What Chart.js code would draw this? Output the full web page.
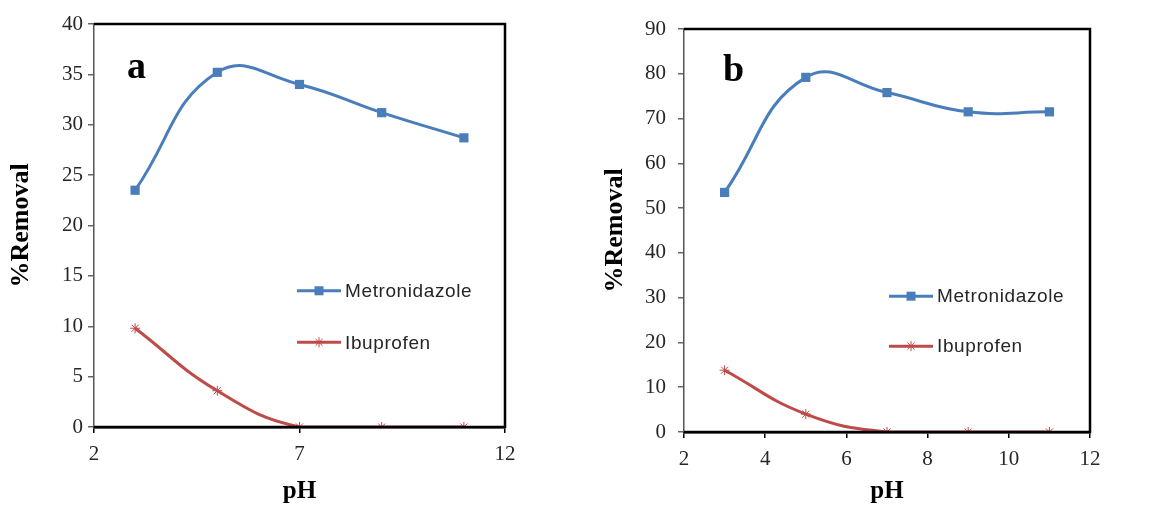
<!DOCTYPE html>
<html>
<head>
<meta charset="utf-8">
<script src="https://cdn.jsdelivr.net/npm/chart.js@4.4.1/dist/chart.umd.min.js"></script>
<style>
  html, body { margin: 0; padding: 0; background: #fff; }
  .panel { position: absolute; top: 0; height: 507px; }
  #panelA { left: 0; width: 535px; }
  #panelB { left: 580px; width: 569px; }
</style>
</head>
<body>
<div class="panel" id="panelA"><canvas id="chartA"></canvas></div>
<div class="panel" id="panelB"><canvas id="chartB"></canvas></div>
<script>
// valores
const phValues = [3, 5, 7, 9, 11]
const metronidazoleA = [23.5, 35.2, 34.0, 31.2, 28.7]
const ibuprofenA = [9.8, 3.6, 0, 0, 0]
const metronidazoleB = [53.5, 79.2, 75.8, 71.5, 71.5]
const ibuprofenB = [13.8, 4.0, 0, 0, 0]
const seriesNames = ['Metronidazole', 'Ibuprofen']

const blue = '#4A7EBB'
const red = '#BE4B48'
const serif = '"Liberation Serif", "Times New Roman", serif'

function toPoints(xs, ys) {
  return xs.map((x, i) => ({ x: x, y: ys[i] }))
}

// moldura da área do gráfico (topo, direita, base em preto)
const plotFrame = {
  id: 'plotFrame',
  afterDraw(chart) {
    const { ctx, chartArea: a } = chart
    ctx.save()
    ctx.strokeStyle = '#000'
    ctx.lineWidth = 2.5
    ctx.beginPath()
    ctx.moveTo(a.left, a.top)
    ctx.lineTo(a.right, a.top)
    ctx.lineTo(a.right, a.bottom)
    ctx.lineTo(a.left, a.bottom)
    ctx.stroke()
    ctx.restore()
  }
}

// legenda desenhada dentro da área do gráfico
const insideLegend = {
  id: 'insideLegend',
  afterDraw(chart, args, opts) {
    const { ctx, chartArea: a } = chart
    const x0 = a.left + a.width * opts.x
    const len = 44
    chart.data.datasets.forEach((ds, i) => {
      const y = a.top + a.height * opts.y[i]
      const mx = x0 + len / 2
      ctx.save()
      ctx.strokeStyle = ds.borderColor
      ctx.lineWidth = 3
      ctx.beginPath()
      ctx.moveTo(x0, y)
      ctx.lineTo(x0 + len, y)
      ctx.stroke()
      if (ds.pointStyle === 'rect') {
        ctx.fillStyle = ds.borderColor
        ctx.fillRect(mx - 4.5, y - 4.5, 9, 9)
      } else {
        ctx.lineWidth = 1
        ctx.beginPath()
        for (let k = 0; k < 4; k++) {
          const ang = k * Math.PI / 4
          ctx.moveTo(mx - 5 * Math.cos(ang), y - 5 * Math.sin(ang))
          ctx.lineTo(mx + 5 * Math.cos(ang), y + 5 * Math.sin(ang))
        }
        ctx.stroke()
      }
      ctx.fillStyle = '#262626'
      ctx.font = '19px "Liberation Sans", Arial, sans-serif'
      ctx.letterSpacing = '0.6px'
      ctx.textBaseline = 'middle'
      ctx.fillText(ds.label, x0 + len + 4, y + 1)
      ctx.restore()
    })
  }
}

// letra do painel (a / b)
const panelLetter = {
  id: 'panelLetter',
  afterDraw(chart, args, opts) {
    const { ctx, chartArea: a } = chart
    ctx.save()
    ctx.fillStyle = '#000'
    ctx.font = 'bold 38px ' + serif
    ctx.textBaseline = 'alphabetic'
    ctx.fillText(opts.text, a.left + a.width * opts.x, a.top + a.height * opts.y)
    ctx.restore()
  }
}

function buildChart(canvasId, metro, ibu, opts) {
  const ctx = document.getElementById(canvasId).getContext('2d')
  return new Chart(ctx, {
    type: 'line',
    data: {
      datasets: [
        {
          label: seriesNames[0],
          data: toPoints(phValues, metro),
          borderColor: blue,
          backgroundColor: blue,
          borderWidth: 3,
          pointStyle: 'rect',
          pointRadius: 6.5,
          pointBorderWidth: 0,
          tension: 0.45
        },
        {
          label: seriesNames[1],
          data: toPoints(phValues, ibu),
          borderColor: red,
          backgroundColor: red,
          borderWidth: 3,
          pointStyle: 'star',
          pointRadius: 5,
          pointBorderWidth: 1,
          tension: 0.45
        }
      ]
    },
    options: {
      responsive: true,
      maintainAspectRatio: false,
      animation: false,
      layout: { padding: opts.padding },
      plugins: {
        legend: { display: false },
        tooltip: { enabled: false },
        insideLegend: opts.legend,
        panelLetter: opts.letter
      },
      scales: {
        x: {
          type: 'linear',
          min: 2,
          max: 12,
          ticks: {
            stepSize: opts.xStep,
            color: '#262626',
            padding: 9,
            font: { family: serif, size: 21 }
          },
          grid: {
            drawOnChartArea: false,
            drawTicks: true,
            tickLength: 6,
            color: '#000',
            lineWidth: 1.5
          },
          border: { display: true, color: '#000', width: 2.5 },
          title: {
            display: true,
            text: 'pH',
            color: '#000',
            padding: { top: 6, bottom: 0 },
            font: { family: serif, size: 25, weight: 'bold' }
          },
          afterFit(scale) { scale.height = opts.xHeight }
        },
        y: {
          min: 0,
          max: opts.yMax,
          ticks: {
            stepSize: opts.yStep,
            color: '#262626',
            padding: opts.yTickPad,
            font: { family: serif, size: 21 }
          },
          grid: {
            drawOnChartArea: false,
            drawTicks: true,
            tickLength: 6,
            color: '#666',
            lineWidth: 1.5
          },
          border: { display: true, color: '#555', width: 1.5 },
          title: {
            display: true,
            text: '%Removal',
            color: '#000',
            padding: { top: 0, bottom: 4 },
            font: { family: serif, size: 26, weight: 'bold' }
          },
          afterFit(scale) { scale.width = opts.yWidth }
        }
      }
    },
    plugins: [plotFrame, insideLegend, panelLetter]
  })
}

buildChart('chartA', metronidazoleA, ibuprofenA, {
  padding: { left: 6, right: 30, top: 24, bottom: 0 },
  xStep: 5,
  yMax: 40,
  yStep: 5,
  yTickPad: 5,
  yWidth: 88,
  xHeight: 80,
  legend: { x: 0.494, y: [0.662, 0.79] },
  letter: { text: 'a', x: 0.08, y: 0.135 }
})

buildChart('chartB', metronidazoleB, ibuprofenB, {
  padding: { left: 20, right: 59, top: 29, bottom: 0 },
  xStep: 2,
  yMax: 90,
  yStep: 10,
  yTickPad: 12,
  yWidth: 84,
  xHeight: 75,
  legend: { x: 0.505, y: [0.663, 0.787] },
  letter: { text: 'b', x: 0.096, y: 0.128 }
})
</script>
</body>
</html>
